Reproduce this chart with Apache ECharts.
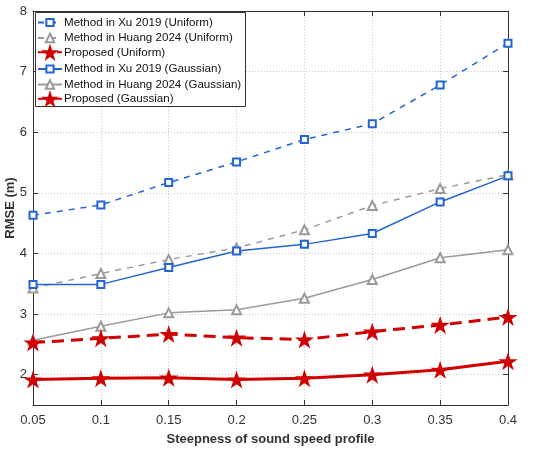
<!DOCTYPE html>
<html>
<head>
<meta charset="utf-8">
<script src="https://cdn.jsdelivr.net/npm/echarts@6/dist/echarts.min.js"></script>
<style>
  html, body { margin: 0; padding: 0; background: #fff; }
  #chart { width: 550px; height: 451px; }
</style>
</head>
<body>
<div id="chart"></div>
<script>
// steepness values on the x axis
const steepness = [0.05, 0.1, 0.15, 0.2, 0.25, 0.3, 0.35, 0.4];

// RMSE (m)
const xuUniform = [4.63, 4.80, 5.17, 5.51, 5.88, 6.14, 6.78, 7.47];
const huangUniform = [3.43, 3.67, 3.90, 4.09, 4.39, 4.79, 5.07, 5.30];
const proposedUniform = [2.53, 2.60, 2.67, 2.61, 2.58, 2.71, 2.82, 2.95];
const xuGaussian = [3.49, 3.49, 3.77, 4.04, 4.15, 4.33, 4.85, 5.28];
const huangGaussian = [2.57, 2.80, 3.02, 3.07, 3.26, 3.57, 3.93, 4.06];
const proposedGaussian = [1.92, 1.94, 1.95, 1.92, 1.94, 2.00, 2.08, 2.22];

const names = [
  'Method in Xu 2019 (Uniform)',
  'Method in Huang 2024 (Uniform)',
  'Proposed (Uniform)',
  'Method in Xu 2019 (Gaussian)',
  'Method in Huang 2024 (Gaussian)',
  'Proposed (Gaussian)'
];

const BLUE = '#2264d6';
const GRAY = '#9a9a9a';
const RED = '#d10000';
const FONT = 'Liberation Sans';
const STAR = 'path://M100 0 L122.45 69.1 L195.1 69.1 L136.33 111.8 L158.78 180.9 L100 138.2 L41.22 180.9 L63.67 111.8 L4.9 69.1 L77.55 69.1 Z';

const pairs = vals => steepness.map((x, i) => [x, vals[i]]);

function makeSeries(name, vals, color, dash, width, symbol, size) {
  const filled = symbol === STAR;
  return {
    name: name,
    type: 'line',
    data: pairs(vals),
    xAxisIndex: 0,
    yAxisIndex: 0,
    symbol: symbol,
    symbolSize: size,
    showAllSymbol: true,
    z: filled ? 5 : 3,
    lineStyle: { color: color, width: width, type: dash },
    // empty symbols take their stroke from color and get a white fill
    itemStyle: { color: color, borderWidth: filled ? 1 : 1.3 },
    emphasis: { disabled: true },
    animation: false
  };
}

// one legend per row so every marker can keep its own size
// (legend marker = 0.8 * itemHeight)
const legendIconHeights = [9, 10.5, 22, 9, 10.5, 22];
const LEG_X = 35, LEG_Y = 12, LEG_W = 210, LEG_H = 94;
const TEXT_H = 14;
const legends = names.map((n, i) => {
  const h = legendIconHeights[i];
  const cy = 23.5 + i * 15.5;
  return {
    data: [n],
    orient: 'horizontal',
    left: LEG_X + 2,
    top: cy - Math.max(h, TEXT_H) / 2,
    padding: 0,
    itemWidth: 24,
    itemHeight: h,
    z: 6,
    textStyle: { fontFamily: FONT, fontSize: 11.6, color: '#111', padding: [0, 0, 0, -3] }
  };
});

const chart = echarts.init(document.getElementById('chart'), null, { renderer: 'canvas' });

const axisLine = { show: true, lineStyle: { color: '#333', width: 1 } };
const axisTick = { show: true, inside: true, length: 5, lineStyle: { color: '#333' } };
const gridLine = { show: true, lineStyle: { color: '#c8c8c8', type: [1, 2], width: 1 } };

chart.setOption({
  backgroundColor: '#fff',
  animation: false,
  grid: { left: 33, right: 42, top: 11, bottom: 46, containLabel: false, outerBoundsMode: 'none' },
  legend: legends,
  graphic: [{
    type: 'rect',
    z: 5,
    shape: { x: LEG_X + 0.5, y: LEG_Y + 0.5, width: LEG_W, height: LEG_H },
    style: { fill: '#fff', stroke: '#333', lineWidth: 1 }
  }],
  xAxis: [
    {
      type: 'value',
      min: 0.05,
      max: 0.4,
      interval: 0.05,
      name: 'Steepness of sound speed profile',
      nameLocation: 'middle',
      nameGap: 28,
      nameMoveOverlap: false,
      nameTextStyle: { fontFamily: FONT, fontSize: 13, fontWeight: 'bold', color: '#333' },
      axisLine: axisLine,
      axisTick: axisTick,
      axisLabel: {
        fontFamily: FONT, fontSize: 13, color: '#333', margin: 9,
        formatter: v => String(Math.round(v * 100) / 100)
      },
      splitLine: gridLine
    },
    {
      type: 'value',
      position: 'top',
      min: 0.05,
      max: 0.4,
      interval: 0.05,
      axisLine: axisLine,
      axisTick: axisTick,
      axisLabel: { show: false },
      splitLine: { show: false }
    }
  ],
  yAxis: [
    {
      type: 'value',
      min: 1.5,
      max: 8,
      splitNumber: 6,
      name: 'RMSE (m)',
      nameLocation: 'middle',
      nameGap: 16,
      nameMoveOverlap: false,
      nameTextStyle: { fontFamily: FONT, fontSize: 13, fontWeight: 'bold', color: '#333' },
      axisLine: axisLine,
      axisTick: axisTick,
      axisLabel: {
        fontFamily: FONT, fontSize: 13, color: '#333', margin: 6,
        formatter: v => (Math.abs(v - Math.round(v)) < 1e-6 ? String(Math.round(v)) : '')
      },
      splitLine: gridLine
    },
    {
      type: 'value',
      position: 'right',
      min: 1.5,
      max: 8,
      splitNumber: 6,
      axisLine: axisLine,
      axisTick: axisTick,
      axisLabel: { show: false },
      splitLine: { show: false }
    }
  ],
  series: [
    makeSeries(names[0], xuUniform, BLUE, [6, 6], 1.5, 'emptyRect', 7),
    makeSeries(names[1], huangUniform, GRAY, [6, 6], 1.5, 'emptyTriangle', 9),
    makeSeries(names[2], proposedUniform, RED, [12, 7], 3, STAR, [19, 18]),
    makeSeries(names[3], xuGaussian, BLUE, 'solid', 1.5, 'emptyRect', 7),
    makeSeries(names[4], huangGaussian, GRAY, 'solid', 1.5, 'emptyTriangle', 9),
    makeSeries(names[5], proposedGaussian, RED, 'solid', 3, STAR, [19, 18])
  ]
});
</script>
</body>
</html>
